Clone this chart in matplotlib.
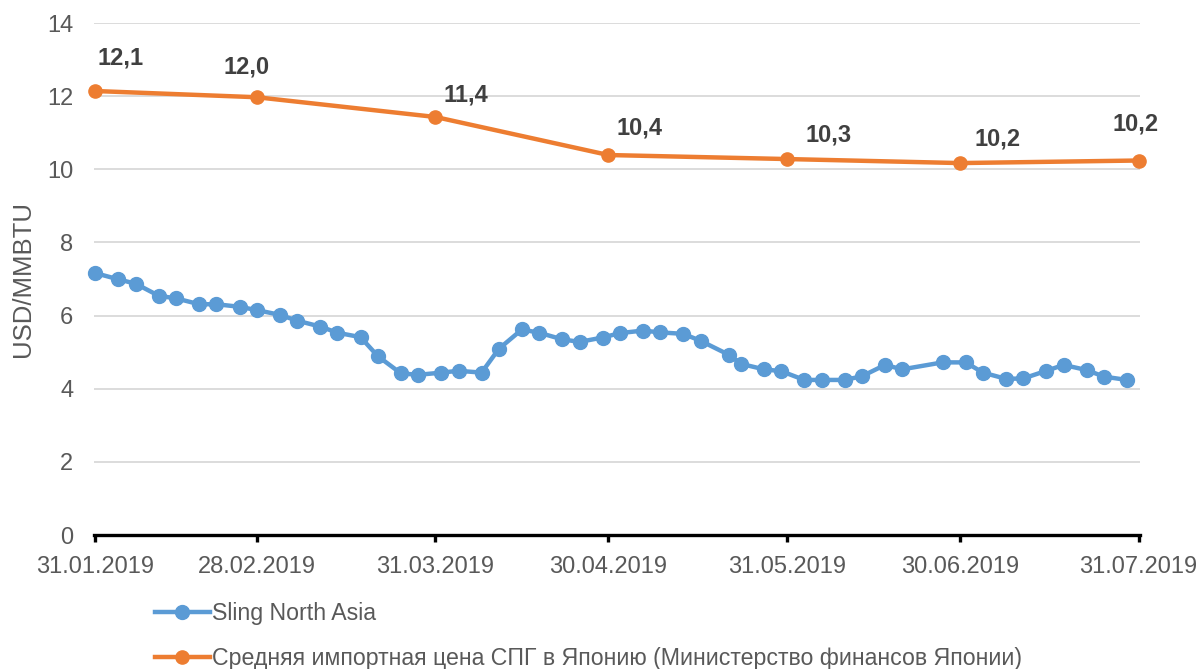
import pandas as pd
import matplotlib
matplotlib.use('Agg')
import matplotlib.pyplot as plt
import matplotlib.dates as md

plt.rcParams['font.family'] = ['Liberation Sans', 'DejaVu Sans']

# Sling North Asia, twice a week
sling_dates = ['2019-01-31', '2019-02-04', '2019-02-07', '2019-02-11', '2019-02-14', '2019-02-18',
               '2019-02-21', '2019-02-25', '2019-02-28', '2019-03-04', '2019-03-07', '2019-03-11',
               '2019-03-14', '2019-03-18', '2019-03-21', '2019-03-25', '2019-03-28', '2019-04-01',
               '2019-04-04', '2019-04-08', '2019-04-11', '2019-04-15', '2019-04-18', '2019-04-22',
               '2019-04-25', '2019-04-29', '2019-05-02', '2019-05-06', '2019-05-09', '2019-05-13',
               '2019-05-16', '2019-05-21', '2019-05-23', '2019-05-27', '2019-05-30', '2019-06-03',
               '2019-06-06', '2019-06-10', '2019-06-13', '2019-06-17', '2019-06-20', '2019-06-27',
               '2019-07-01', '2019-07-04', '2019-07-08', '2019-07-11', '2019-07-15', '2019-07-18',
               '2019-07-22', '2019-07-25', '2019-07-29']
sling = [7.16, 6.99, 6.87, 6.54, 6.47, 6.31,
         6.31, 6.24, 6.15, 6.02, 5.86, 5.70,
         5.53, 5.41, 4.89, 4.42, 4.38, 4.44,
         4.49, 4.44, 5.09, 5.62, 5.53, 5.35,
         5.28, 5.40, 5.52, 5.59, 5.54, 5.50,
         5.31, 4.92, 4.68, 4.53, 4.48, 4.24,
         4.24, 4.24, 4.34, 4.65, 4.53, 4.72,
         4.72, 4.44, 4.27, 4.28, 4.49, 4.65,
         4.51, 4.33, 4.24]

# average import price of LNG in Japan, monthly
japan_dates = ['2019-01-31', '2019-02-28', '2019-03-31', '2019-04-30',
               '2019-05-31', '2019-06-30', '2019-07-31']
japan = [12.14, 11.97, 11.43, 10.39, 10.28, 10.17, 10.24]

tick_dates = japan_dates

sling_name = 'Sling North Asia'
japan_name = 'Средняя импортная цена СПГ в Японию (Министерство финансов Японии)'

blue = '#5b9bd5'
orange = '#ed7d31'
grey_txt = '#595959'

fig = plt.figure(figsize=(12.02, 6.69), dpi=100)
ax = fig.add_axes([94 / 1202, 1 - 535 / 669, (1140 - 94) / 1202, 512 / 669])

ax.plot(pd.to_datetime(sling_dates), sling, color=blue, lw=3.2, marker='o', ms=10,
        label=sling_name, zorder=3, clip_on=False)
ax.plot(pd.to_datetime(japan_dates), japan, color=orange, lw=3.2, marker='o', ms=9.5,
        label=japan_name, zorder=4, clip_on=False)

# data labels, nudged by hand like in the original chart (pixels)
offsets = [(25, 33), (-10, 30), (30, 22), (31, 27), (42, 24), (38, 24), (-3, 37)]
for d, v, off in zip(pd.to_datetime(japan_dates), japan, offsets):
    ax.annotate(f'{v:.1f}'.replace('.', ','), (d, v), xytext=off, textcoords='offset pixels',
                ha='center', va='center', fontsize=17, fontweight='bold', color='#404040')

ax.set_ylim(0, 14)
ax.set_yticks(range(0, 15, 2))
ax.set_xlim(pd.Timestamp('2019-01-31') - pd.Timedelta(hours=6), pd.Timestamp('2019-07-31') + pd.Timedelta(hours=6))
ax.set_xticks(pd.to_datetime(tick_dates))
ax.xaxis.set_major_formatter(md.DateFormatter('%d.%m.%Y'))

ax.grid(axis='y', color='#d9d9d9', lw=1.3)
ax.set_axisbelow(True)
for s in ['top', 'right', 'left']:
    ax.spines[s].set_visible(False)
ax.spines['bottom'].set_linewidth(2.4)
ax.spines['bottom'].set_color('black')
ax.spines['bottom'].set_zorder(5)

ax.tick_params(axis='y', length=0, pad=15, labelsize=17, labelcolor=grey_txt)
ax.tick_params(axis='x', length=5, width=2.4, color='black', pad=10, labelsize=17, labelcolor=grey_txt)

ax.set_ylabel('USD/MMBTU', fontsize=18.5, color=grey_txt)
ax.yaxis.set_label_coords(-0.056, 0.5)

fig.legend(loc='upper left', bbox_to_anchor=(155 / 1202, 1 - 602 / 669), frameon=False,
           fontsize=16.7, labelcolor=grey_txt, handlelength=2.35, handletextpad=0.1,
           labelspacing=0.95, borderpad=0, borderaxespad=0)

plt.savefig('out.png', dpi=100)
